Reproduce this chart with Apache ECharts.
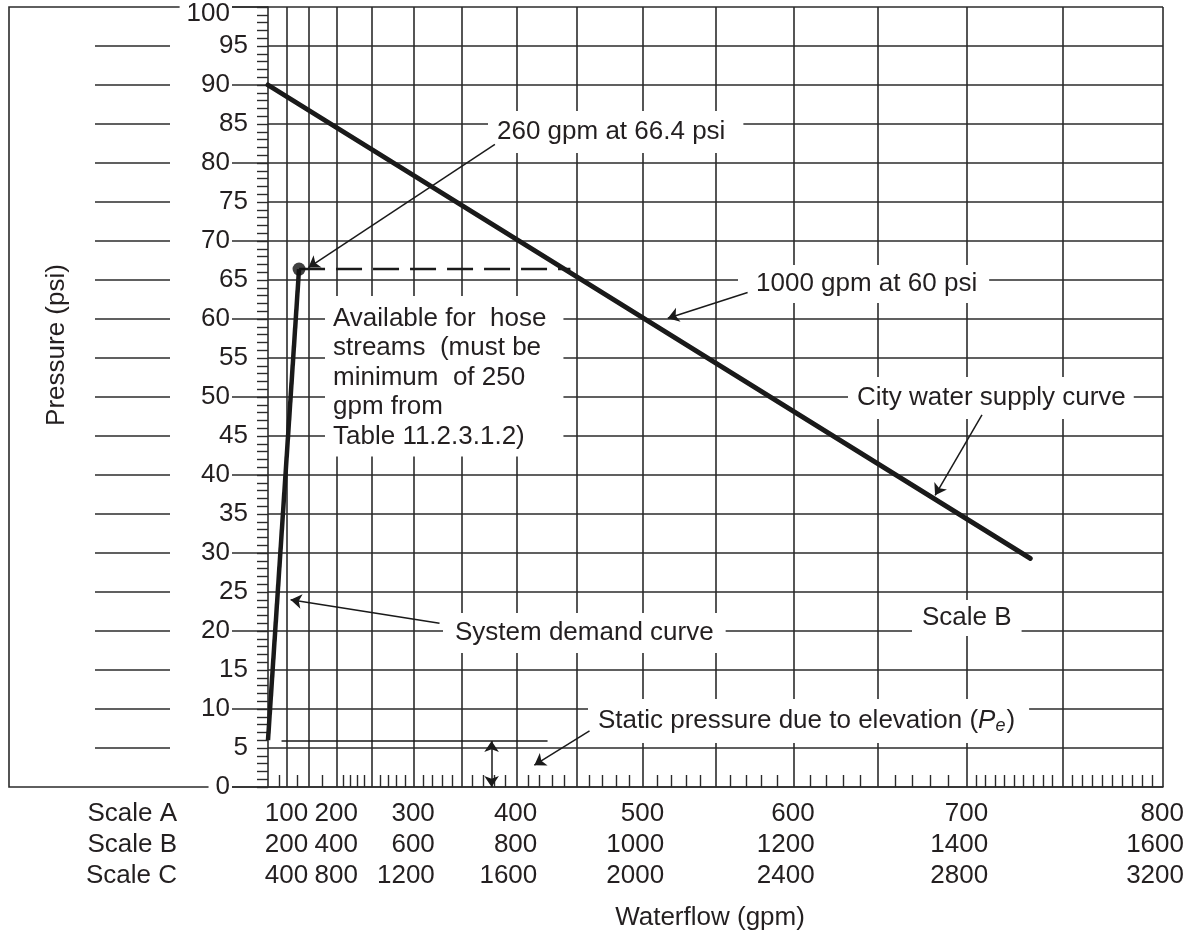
<!DOCTYPE html>
<html>
<head>
<meta charset="utf-8">
<script src="https://cdn.jsdelivr.net/npm/echarts@6/dist/echarts.min.js"></script>
<style>
  html, body { margin: 0; background: #fff; }
  #chart { width: 1199px; height: 940px; }
</style>
</head>
<body>
<div id="chart"></div>
<script>
// Flow axis of hydraulic graph paper: positions go as Q^1.85
const EXP = 1.85;
const FLOW_MAX_A = 800;

// bottom labels, three scales
const scaleA = [100, 200, 300, 400, 500, 600, 700, 800];
const scaleB = [200, 400, 600, 800, 1000, 1200, 1400, 1600];
const scaleC = [400, 800, 1200, 1600, 2000, 2400, 2800, 3200];
const scaleNames = ["Scale A", "Scale B", "Scale C"];

// vertical grid lines + short ticks on the bottom edge (Scale A units)
const gridFlowA = [100, 150, 200, 250, 300, 350, 400, 450, 500, 550, 600, 650, 700, 750, 800];
const minorFlowA = [
  75, 125, 175,
  210, 220, 230, 240, 260, 270, 280, 290, 310, 320, 330, 340,
  360, 370, 380, 390, 410, 420, 430, 440, 460, 470, 480, 490,
  510, 520, 530, 540, 560, 570, 580, 590, 610, 620, 630, 640,
  660, 670, 680, 690,
  705, 710, 715, 720, 725, 730, 735, 740, 745,
  755, 760, 765, 770, 775, 780, 785, 790, 795,
];

// the loose ruler marks left of the pressure labels
const rulerPsi = [5, 10, 15, 20, 25, 30, 35, 40, 45, 50, 55, 60, 65, 70, 75, 80, 85, 90, 95];

// curves, flow in gpm (Scale B), pressure in psi
const supplyFlow = [0, 1467];
const supplyPsi = [90, 29.3];
const demandFlow = [0, 260];
const demandPsi = [6, 66.4];
const designFlow = [260];
const designPsi = [66.4];
const hoseFlow = [260, 890];
const hosePsi = [66.4, 66.4];
const staticFlow = [166, 853];
const staticPsi = [5.9, 5.9];

// callout arrows [fromFlow, fromPsi, toFlow, toPsi]
const arrows = [
  [762, 82.4, 300, 66.6],
  [1142, 63.4, 1035, 60.1],
  [1416, 47.7, 1365, 37.4],
  [655, 21.0, 219, 24.0],
  [920, 7.2, 831, 2.8],
];
const elevArrow = [756, 5.9, 756, 0];

const INK = "#231f20";
const GRID = "#2b2b2b";
const FONT = '"Liberation Sans", Arial, Helvetica, sans-serif';
const FS = 26;

const toAxisA = (qA) => FLOW_MAX_A * Math.pow(qA / FLOW_MAX_A, EXP);
const toAxis = (qB) => toAxisA(qB / 2);
const pts = (flows, psis) => flows.map((q, i) => [toAxis(q), psis[i]]);

const chart = echarts.init(document.getElementById("chart"), null, { renderer: "canvas" });

const txt = (x, y, text, padding, extra) => ({
  type: "text",
  x, y, z: 1,
  style: Object.assign({
    text,
    fontSize: FS,
    fontFamily: FONT,
    fill: INK,
    backgroundColor: "#fff",
    padding,
    align: "left",
    verticalAlign: "middle",
  }, extra || {}),
});

chart.setOption({
  backgroundColor: "#fff",
  animation: false,
  grid: { left: 268, right: 36, top: 7, bottom: 153, containLabel: false, outerBoundsMode: "none" },
  xAxis: [
    {
      type: "value",
      min: 0,
      max: FLOW_MAX_A,
      position: "bottom",
      axisLine: { show: true, lineStyle: { color: GRID, width: 1.6 } },
      axisTick: { show: false, customValues: gridFlowA.map(toAxisA) },
      splitLine: { show: true, lineStyle: { color: GRID, width: 1.6 } },
      axisLabel: {
        customValues: scaleA.map(toAxisA),
        color: INK,
        fontSize: FS,
        fontFamily: FONT,
        lineHeight: 31,
        align: "right",
        verticalAlign: "top",
        padding: [0, -21, 0, 0],
        margin: 11,
        formatter: (v) => {
          const q = Math.round(FLOW_MAX_A * Math.pow(v / FLOW_MAX_A, 1 / EXP));
          const i = scaleA.indexOf(q);
          return i < 0 ? "" : scaleA[i] + "\n" + scaleB[i] + "\n" + scaleC[i];
        },
      },
    },
    {
      // short ticks along the bottom edge
      type: "value",
      min: 0,
      max: FLOW_MAX_A,
      position: "bottom",
      axisLine: { show: false },
      axisTick: {
        show: true,
        inside: true,
        length: 12,
        customValues: minorFlowA.map(toAxisA),
        lineStyle: { color: GRID, width: 1.4 },
      },
      axisLabel: { show: false },
      splitLine: { show: false },
    },
  ],
  yAxis: [
    {
      type: "value",
      min: 0,
      max: 100,
      interval: 5,
      position: "left",
      axisLine: { show: true, lineStyle: { color: GRID, width: 1.6 } },
      axisTick: { show: true, length: 11, lineStyle: { color: GRID, width: 1.4 } },
      minorTick: { show: true, splitNumber: 5, length: 11, lineStyle: { color: GRID, width: 1.4 } },
      splitLine: { show: true, lineStyle: { color: GRID, width: 1.6 } },
      axisLabel: {
        color: INK,
        fontSize: FS,
        fontFamily: FONT,
        margin: 20,
        formatter: (v) => (v % 10 === 0 ? "" : String(v)),
      },
    },
    {
      // labels and long ticks at every 10 psi
      type: "value",
      min: 0,
      max: 100,
      interval: 10,
      position: "left",
      axisLine: { show: false },
      axisTick: { show: true, length: 36, lineStyle: { color: GRID, width: 1.6 } },
      splitLine: { show: false },
      axisLabel: {
        color: INK,
        fontSize: FS,
        fontFamily: FONT,
        margin: 36,
        backgroundColor: "#fff",
        padding: [0, 2, 0, 7],
        formatter: (v) => (v === 100 ? "{top|100}" : String(v)),
        rich: {
          top: { fontSize: FS, fontFamily: FONT, color: INK, padding: [13, 0, 0, 0] },
        },
      },
    },
    {
      // ruler marks far left
      type: "value",
      min: 0,
      max: 100,
      position: "left",
      offset: 98,
      axisLine: { show: false },
      axisTick: { show: true, length: 75, customValues: rulerPsi, lineStyle: { color: GRID, width: 1.6 } },
      axisLabel: { show: false },
      splitLine: { show: false },
    },
  ],
  series: [
    {
      name: "City water supply curve",
      type: "line",
      data: pts(supplyFlow, supplyPsi),
      symbol: "none",
      lineStyle: { color: "#1a1a1a", width: 5, cap: "round" },
      z: 4,
    },
    {
      name: "System demand curve",
      type: "line",
      data: pts(demandFlow, demandPsi),
      symbol: "none",
      lineStyle: { color: "#1a1a1a", width: 4.5 },
      z: 4,
    },
    {
      name: "Hose allowance",
      type: "line",
      data: pts(hoseFlow, hosePsi),
      symbol: "none",
      lineStyle: { color: "#1a1a1a", width: 2.5, type: [26, 11] },
      z: 3,
    },
    {
      name: "Design point",
      type: "scatter",
      data: pts(designFlow, designPsi),
      symbol: "circle",
      symbolSize: 13,
      itemStyle: { color: "#111" },
      z: 5,
    },
    {
      name: "Static pressure",
      type: "line",
      data: pts(staticFlow, staticPsi),
      symbol: "none",
      lineStyle: { color: "#1a1a1a", width: 1.6 },
      z: 3,
      markLine: {
        silent: true,
        animation: false,
        symbol: ["none", "arrow"],
        symbolSize: 11,
        label: { show: false },
        lineStyle: { color: "#1a1a1a", width: 1.5, type: "solid" },
        emphasis: { disabled: true },
        data: arrows
          .map((a) => [{ coord: [toAxis(a[0]), a[1]] }, { coord: [toAxis(a[2]), a[3]] }])
          .concat([[
            { coord: [toAxis(elevArrow[0]), elevArrow[1]], symbol: "arrow" },
            { coord: [toAxis(elevArrow[2]), elevArrow[3]], symbol: "arrow" },
          ]]),
      },
    },
  ],
  graphic: {
    elements: [
      {
        type: "polyline",
        z: -1,
        shape: { points: [[268, 7], [9, 7], [9, 787], [268, 787]] },
        style: { fill: null, stroke: GRID, lineWidth: 1.6 },
      },
      txt(488, 132, "260 gpm at 66.4 psi", [8, 18, 8, 9]),
      txt(738, 284, "1000 gpm at 60 psi", [6, 12, 6, 18]),
      txt(848, 398, "City water supply curve", [8, 8, 8, 9]),
      txt(912, 618, "Scale B", [5, 10, 5, 10]),
      txt(443, 633, "System demand curve", [7, 12, 7, 12]),
      txt(588, 721, "Static pressure due to elevation ({i|P}{s|e})", [8, 14, 8, 10], {
        rich: {
          i: { fontStyle: "italic", fontSize: FS, fontFamily: FONT, fill: INK },
          s: { fontStyle: "italic", fontSize: 18, fontFamily: FONT, fill: INK, padding: [10, 1, 0, 0] },
        },
      }),
      txt(325, 296,
        "Available for  hose\nstreams  (must be\nminimum  of 250\ngpm from\nTable 11.2.3.1.2)",
        [8, 17, 5, 8], { verticalAlign: "top", lineHeight: 29.5 }),
      {
        type: "text",
        x: 177, y: 798, z: 1,
        style: {
          text: scaleNames.join("\n"),
          fontSize: FS, fontFamily: FONT, fill: INK,
          lineHeight: 31, align: "right", verticalAlign: "top",
        },
      },
      {
        type: "text",
        x: 710, y: 918, z: 1,
        style: { text: "Waterflow (gpm)", fontSize: FS, fontFamily: FONT, fill: INK, align: "center", verticalAlign: "middle" },
      },
      {
        type: "text",
        x: 57, y: 345, z: 1,
        rotation: Math.PI / 2,
        style: { text: "Pressure (psi)", fontSize: FS, fontFamily: FONT, fill: INK, align: "center", verticalAlign: "middle" },
      },
    ],
  },
});
</script>
</body>
</html>
